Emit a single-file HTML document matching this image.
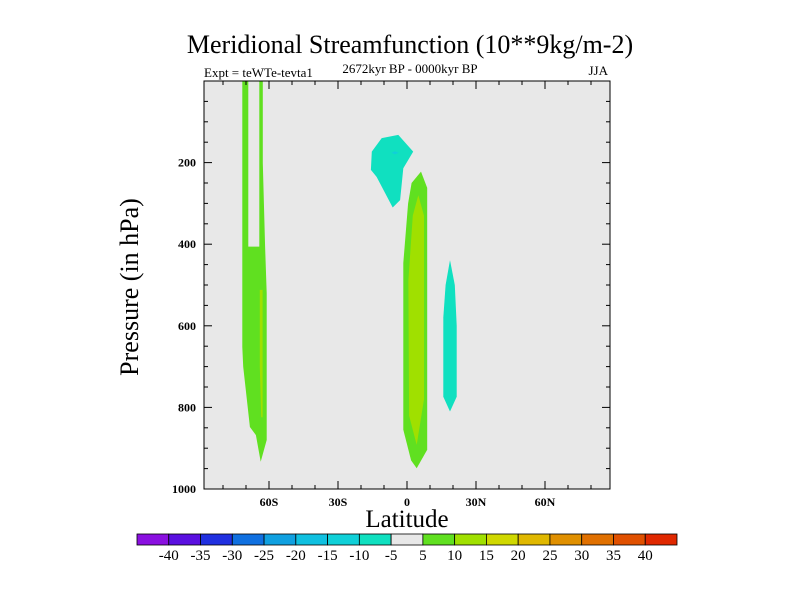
<!DOCTYPE html>
<html><head><meta charset="utf-8"><style>
body{margin:0;background:#fff;}
svg text{font-family:"Liberation Serif",serif;fill:#000;}
</style></head><body>
<svg width="800" height="600">
<text x="410" y="53" font-size="26" text-anchor="middle">Meridional Streamfunction (10**9kg/m-2)</text>
<text x="204" y="77" font-size="13">Expt = teWTe-tevta1</text>
<text x="410" y="73" font-size="13" text-anchor="middle">2672kyr BP - 0000kyr BP</text>
<text x="608" y="75" font-size="13" text-anchor="end">JJA</text>
<rect x="204" y="81" width="406" height="408" fill="#e8e8e8"/>
<g id="fills"></g>
<rect x="204" y="81" width="406" height="408" fill="none" stroke="#000" stroke-width="1"/>
<g id="axes"></g>
<text x="407" y="527" font-size="25" text-anchor="middle">Latitude</text>
<text transform="translate(138,287) rotate(-90)" font-size="26" text-anchor="middle">Pressure (in hPa)</text>
<g id="cbar"></g>
</svg>
<script>
const levels=[-40,-35,-30,-25,-20,-15,-10,-5,5,10,15,20,25,30,35,40];
const colors=["#8a10e0","#5a10e0","#2030e0","#1070e0","#10a0e0","#10c0e0","#10d0d8","#10e0c0","#e8e8e8","#60e020","#a0e000","#d0d800","#e0b800","#e09000","#e07000","#e05000","#e02800"];
const xTicks=[-60,-30,0,30,60];
const xTickLabels=["60S","30S","0","30N","60N"];
const yTicks=[200,400,600,800,1000];
// contour regions: [colorIndex, [[lat,pressure hPa],...]]
const regions=[
[9,[[-71.6,0],[-69,0],[-69,406],[-64.2,406],[-64.2,0],[-62.7,0],[-62.7,201],[-61.7,406],[-61,520],[-61,880],[-63.6,933],[-65.7,868],[-68.3,848],[-71.2,700],[-71.6,652]]],
[10,[[-64,512],[-62.8,512],[-62.8,824],[-63.4,824],[-64,700]]],
[9,[[6.1,222],[8.8,262],[8.8,904],[4.2,949],[1.8,930],[-1.6,855],[-1.6,446],[0.5,300],[2,250]]],
[10,[[4.9,280],[7.4,330],[7.4,780],[4.2,892],[0.9,820],[0.6,488],[2.5,330]]],
[7,[[-11,140],[-3.8,132],[2.7,173],[-1.6,214],[-3,292],[-6.2,310],[-13.2,235],[-15.7,218],[-15.3,173]]],
[6,[[-6.8,176],[-5.2,172],[-3.6,176],[-5.2,180]]],
[7,[[18.7,439],[20.8,500],[21.6,600],[21.6,774],[18.7,810],[15.8,774],[15.8,580],[16.8,500]]]
];
const X=lat=>407+lat*2.3;
const Y=p=>81+p*0.408;
const ns="http://www.w3.org/2000/svg";
function mk(t,a,parent){const e=document.createElementNS(ns,t);for(const k in a)e.setAttribute(k,a[k]);parent.appendChild(e);return e;}
const fills=document.getElementById('fills');
regions.forEach((r,i)=>{
 const pts=r[1].map(d=>X(d[0]).toFixed(1)+","+Y(d[1]).toFixed(1)).join(" ");
 const e=mk('polygon',{points:pts,fill:colors[r[0]]},fills);
 
 
});
const axes=document.getElementById('axes');
for(let lat=-80;lat<=80;lat+=10){
 const x=X(lat),major=lat%30===0;const L=major?8:4;
 mk('line',{x1:x,x2:x,y1:489,y2:489-L,stroke:'#000'},axes);
 mk('line',{x1:x,x2:x,y1:81,y2:81+L,stroke:'#000'},axes);
}
xTicks.forEach((t,i)=>{
 const e=mk('text',{x:X(t),y:506,'font-size':12,'font-weight':'bold','text-anchor':'middle'},axes);e.textContent=xTickLabels[i];
 
 
});
for(let p=50;p<=950;p+=50){
 const y=Y(p),major=p%200===0;const L=major?8:4;
 mk('line',{x1:204,x2:204+L,y1:y,y2:y,stroke:'#000'},axes);
 mk('line',{x1:610,x2:610-L,y1:y,y2:y,stroke:'#000'},axes);
}
yTicks.forEach(t=>{
 const e=mk('text',{x:196,y:Y(t)+4,'font-size':12,'font-weight':'bold','text-anchor':'end'},axes);e.textContent=t;
 
 
});
const cb=document.getElementById('cbar');
const w=540/colors.length;
colors.forEach((c,i)=>{
 const e=mk('rect',{x:137+i*w,y:534,width:w,height:11,fill:c,stroke:'#000','stroke-width':0.8},cb);
 
 
});
levels.forEach((l,i)=>{
 const e=mk('text',{x:137+(i+1)*w,y:560,'font-size':15,'text-anchor':'middle'},cb);e.textContent=l;
 
 
});
</script>
</body></html>
